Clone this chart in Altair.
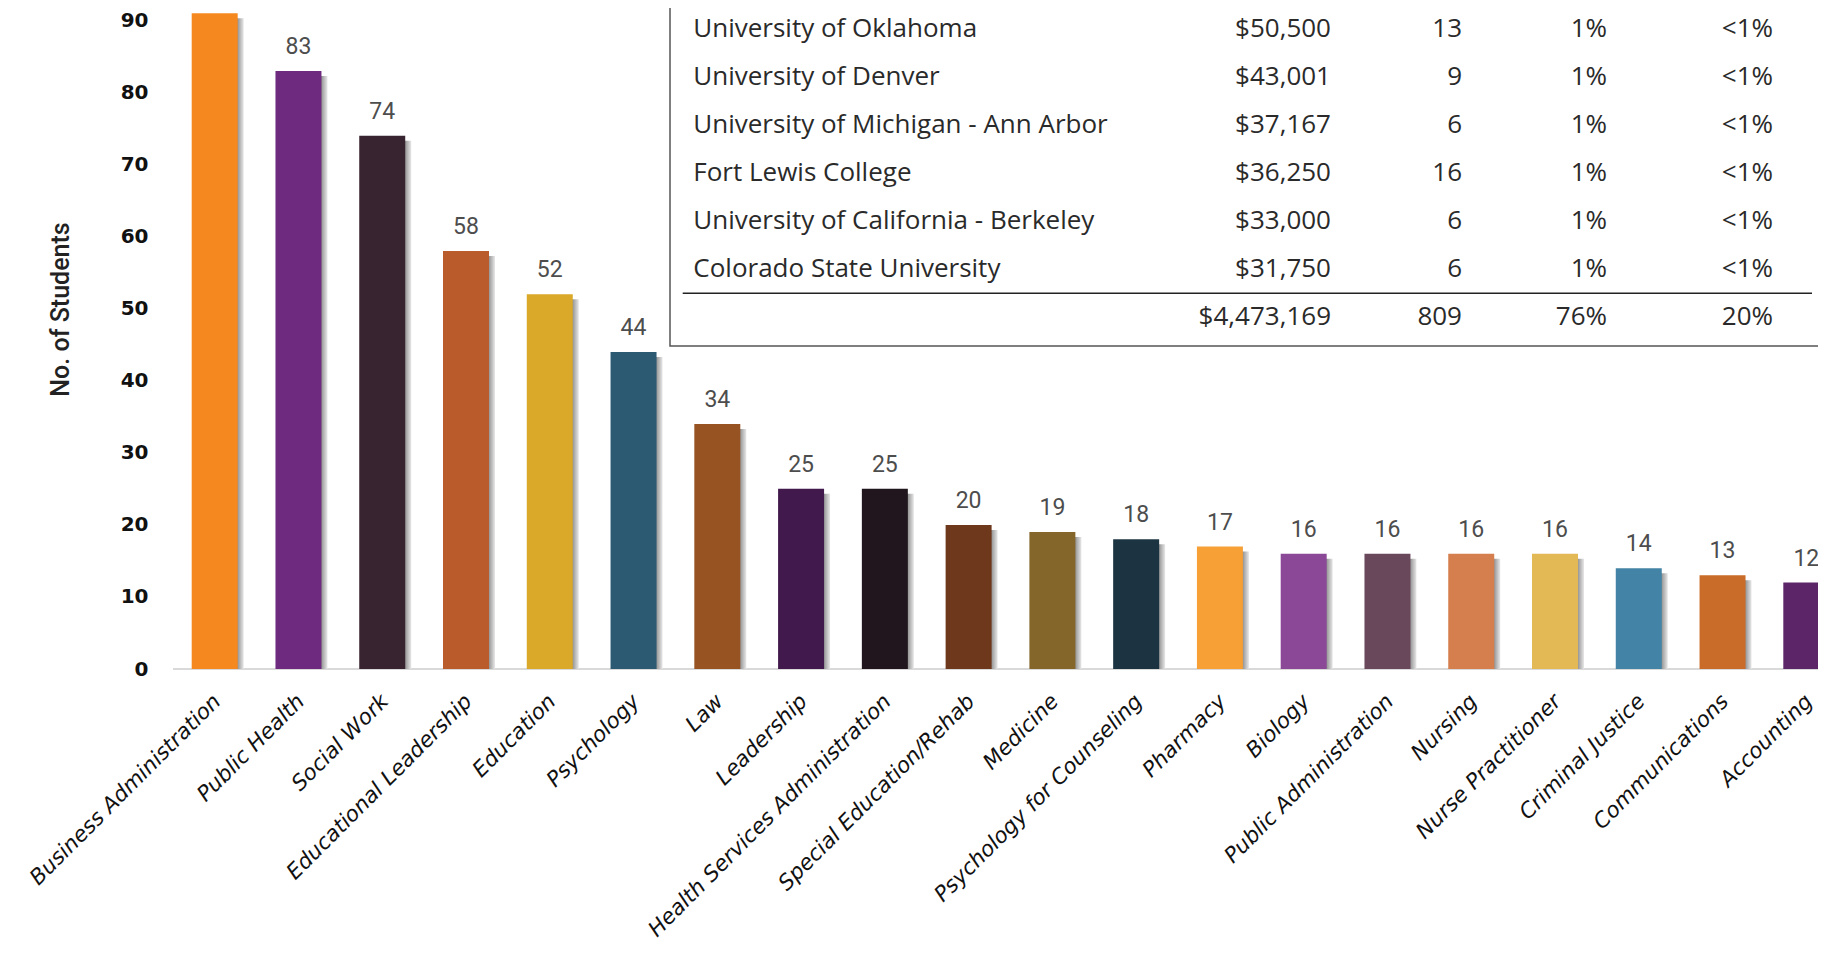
import altair as alt
import pandas as pd

# ---------------- data ----------------
majors = [
    "Business Administration", "Public Health", "Social Work", "Educational Leadership",
    "Education", "Psychology", "Law", "Leadership", "Health Services Administration",
    "Special Education/Rehab", "Medicine", "Psychology for Counseling", "Pharmacy",
    "Biology", "Public Administration", "Nursing", "Nurse Practitioner",
    "Criminal Justice", "Communications", "Accounting",
]
students = [91, 83, 74, 58, 52, 44, 34, 25, 25, 20, 19, 18, 17, 16, 16, 16, 16, 14, 13, 12]
colors = [
    "#F5891F", "#6D2A7F", "#372430", "#BA5B2B", "#DAA92A", "#2B5A72", "#985322",
    "#42194C", "#21161D", "#6E381C", "#84652A", "#1C3442", "#F6A035", "#8A4897",
    "#6A485C", "#D57F4F", "#E2B955", "#4383A5", "#C96C2A", "#5B2568",
]

universities = [
    "University of Oklahoma", "University of Denver", "University of Michigan - Ann Arbor",
    "Fort Lewis College", "University of California - Berkeley", "Colorado State University",
]
amounts = ["$50,500", "$43,001", "$37,167", "$36,250", "$33,000", "$31,750"]
counts = ["13", "9", "6", "16", "6", "6"]
share_a = ["1%", "1%", "1%", "1%", "1%", "1%"]
share_b = ["<1%", "<1%", "<1%", "<1%", "<1%", "<1%"]
total_row = ["", "$4,473,169", "809", "76%", "20%"]

bars_df = pd.DataFrame({"major": majors, "students": students})

table_df = pd.DataFrame({
    "row": list(range(len(universities))) + [len(universities)],
    "name": universities + [total_row[0]],
    "amount": amounts + [total_row[1]],
    "count": counts + [total_row[2]],
    "pa": share_a + [total_row[3]],
    "pb": share_b + [total_row[4]],
})

# ---------------- layout ----------------
W = 1645
H = 661
YMAX = 91.74
X_RANGE = [18.7, 1656.3]

x_scale = alt.Scale(range=X_RANGE, paddingInner=0.451, paddingOuter=0)
x_plain = alt.X("major:N", sort=majors, scale=x_scale)
x_axis = alt.X(
    "major:N", sort=majors, scale=x_scale,
    axis=alt.Axis(
        title=None, labelAngle=315, labelAlign="right", labelBaseline="middle",
        labelFont="DejaVu Sans", labelFontStyle="italic", labelFontSize=21.5,
        labelColor="#111111", labelPadding=29, labelOffset=3, ticks=False, domain=False,
        labelOverlap=False, labelLimit=0,
    ),
)
y_scale = alt.Scale(domain=[0, YMAX], nice=False, zero=True)

base = alt.Chart(bars_df)

shadow = base.mark_bar(
    clip=True, xOffset=6, yOffset=5,
    color=alt.LinearGradient(
        gradient="linear", x1=0, x2=1, y1=0, y2=0,
        stops=[
            alt.GradientStop(offset=0, color="#808080"),
            alt.GradientStop(offset=0.86, color="#909090"),
            alt.GradientStop(offset=1, color="#e8e8e8"),
        ],
    ),
).encode(x=x_plain, y=alt.Y("students:Q", scale=y_scale, axis=None))

bars = base.mark_bar(clip=True).encode(
    x=x_axis,
    y=alt.Y(
        "students:Q", scale=y_scale,
        axis=alt.Axis(
            values=[0, 10, 20, 30, 40, 50, 60, 70, 80, 90], grid=False, ticks=False,
            domain=False, labelFont="DejaVu Sans", labelFontWeight="bold",
            labelFontSize=20, labelColor="#111111", labelPadding=25,
            title="No. of Students", titleFont="Roboto", titleFontSize=25,
            titleFontWeight=500, titleColor="#222222", titleAngle=270,
            titleAlign="center", titleBaseline="middle", titleX=-113, titleY=301,
        ),
    ),
    color=alt.Color("major:N", scale=alt.Scale(domain=majors, range=colors), legend=None),
)

values = base.mark_text(
    dy=-24, font="Roboto", fontSize=23, color="#4d4d4d", baseline="middle"
).encode(
    x=x_plain,
    y=alt.Y("students:Q", scale=y_scale, axis=None),
    text="students:Q",
)

baseline = alt.Chart(pd.DataFrame({"v": [0]})).mark_rule(color="#d9d9d9", strokeWidth=2).encode(
    y=alt.Y("v:Q", scale=y_scale, axis=None), x=alt.value(0), x2=alt.value(W)
)

# ---------------- table overlay ----------------
box = alt.Chart(pd.DataFrame({"v": [0]})).mark_rect(
    fill="white", stroke="#555555", strokeWidth=1.5
).encode(x=alt.value(497), x2=alt.value(W + 200), y=alt.value(-30), y2=alt.value(338))

sep = alt.Chart(pd.DataFrame({"v": [0]})).mark_rule(color="#222222", strokeWidth=1.5).encode(
    x=alt.value(509.7), x2=alt.value(W - 6), y=alt.value(285.3)
)

row_scale = alt.Scale(domain=[0, 6], range=[21.2, 309.3])
tbase = alt.Chart(table_df)


def col(field, xpos, align):
    return tbase.mark_text(
        font="Open Sans", fontSize=26, color="#2a2a2a", align=align, baseline="middle"
    ).encode(
        x=alt.value(xpos),
        y=alt.Y("row:Q", scale=row_scale, axis=None),
        text=f"{field}:N",
    )


table = alt.layer(
    col("name", 520.3, "left"),
    col("amount", 1158, "right"),
    col("count", 1289, "right"),
    col("pa", 1434, "right"),
    col("pb", 1600, "right"),
)

chart = alt.layer(
    baseline, shadow, bars, values, box, sep, table
).resolve_scale(y="independent").properties(
    width=W, height=H,
    autosize=alt.AutoSizeParams(type="none"),
    padding={"left": 165, "top": 0, "right": 0, "bottom": 276},
).configure_view(stroke=None)

chart.save("out.html", embed_options={"renderer": "svg", "actions": False})
